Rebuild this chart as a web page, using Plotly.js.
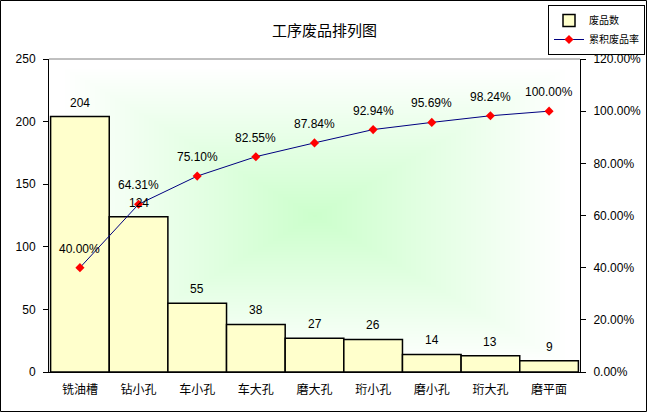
<!DOCTYPE html>
<html>
<head>
<meta charset="utf-8">
<script src="https://cdn.plot.ly/plotly-3.0.1.min.js"></script>
<style>
  html, body { margin: 0; padding: 0; background: #fff; }
  #chart { width: 649px; height: 415px; }
</style>
</head>
<body>
<div id="chart"></div>
<script>
var categories = ['铣油槽', '钻小孔', '车小孔', '车大孔', '磨大孔', '珩小孔', '磨小孔', '珩大孔', '磨平面'];
var rejects = [204, 124, 55, 38, 27, 26, 14, 13, 9];
var cumRate = [0.4000, 0.6431, 0.7510, 0.8255, 0.8784, 0.9294, 0.9569, 0.9824, 1.0000];
var pctLabels = ['40.00%', '64.31%', '75.10%', '82.55%', '87.84%', '92.94%', '95.69%', '98.24%', '100.00%'];

var W = 649, H = 415;
var m = {l: 49, r: 69, t: 59, b: 43, autoexpand: false};
var pw = W - m.l - m.r, ph = H - m.t - m.b;

// excel-ish "from centre" gradient for the plot area
function gradientUrl() {
  var c = document.createElement('canvas');
  c.width = pw; c.height = ph;
  var ctx = c.getContext('2d');
  var img = ctx.createImageData(pw, ph);
  var cx = pw / 2, cy = ph / 2;
  for (var y = 0; y < ph; y++) {
    for (var x = 0; x < pw; x++) {
      var t = Math.max(Math.abs(x - cx) / cx, Math.abs(y - cy) / cy);
      t = Math.min(1, t / 0.95);
      var i = (y * pw + x) * 4;
      img.data[i] = Math.round(204 + 51 * t);
      img.data[i + 1] = 255;
      img.data[i + 2] = Math.round(204 + 51 * t);
      img.data[i + 3] = 255;
    }
  }
  ctx.putImageData(img, 0, 0);
  return c.toDataURL();
}

var numFont = {family: 'Liberation Sans, Arial, sans-serif', size: 12, color: '#000'};
var cjkFont = {family: 'Noto Sans CJK SC, sans-serif', size: 12, color: '#000'};

var bars = {
  type: 'bar',
  name: '废品数',
  x: categories,
  y: rejects,
  marker: {color: '#FFFFCC', line: {color: '#000', width: 1.5}},
  hoverinfo: 'x+y'
};

var line = {
  type: 'scatter',
  mode: 'lines+markers',
  name: '累积废品率',
  x: categories,
  y: cumRate,
  yaxis: 'y2',
  cliponaxis: false,
  line: {color: '#000080', width: 1},
  marker: {symbol: 'diamond', color: '#FF0000', size: 7}
};

// data labels, placed through the axes
var annotations = [];
categories.forEach(function (c, i) {
  annotations.push({
    x: c, y: rejects[i], xref: 'x', yref: 'y',
    text: String(rejects[i]), showarrow: false,
    yanchor: 'middle', yshift: 14, font: numFont
  });
  annotations.push({
    x: c, y: cumRate[i], xref: 'x', yref: 'y2',
    text: pctLabels[i], showarrow: false,
    yanchor: 'middle', yshift: 19, font: numFont
  });
});

var layout = {
  width: W, height: H,
  margin: m,
  paper_bgcolor: '#fff',
  plot_bgcolor: 'rgba(0,0,0,0)',
  showlegend: true,
  bargap: 0,
  annotations: annotations,
  title: {
    text: '工序废品排列图',
    font: {family: 'Noto Sans CJK SC, sans-serif', size: 15, color: '#000'},
    x: 0.5, xanchor: 'center', y: 0.927, yanchor: 'middle'
  },
  xaxis: {
    type: 'category',
    showline: true, linecolor: '#000', linewidth: 1,
    ticks: '', tickfont: cjkFont, ticklabelstandoff: 7,
    showgrid: false, zeroline: false, fixedrange: true
  },
  yaxis: {
    range: [0, 250], dtick: 50,
    showline: true, linecolor: '#000', linewidth: 1,
    ticks: 'outside', ticklen: 5, tickcolor: '#000',
    tickfont: numFont, ticklabelstandoff: 5,
    showgrid: false, zeroline: false, fixedrange: true
  },
  yaxis2: {
    overlaying: 'y', side: 'right',
    range: [0, 1.2], dtick: 0.2, tickformat: '.2%',
    showline: true, linecolor: '#000', linewidth: 1,
    ticks: 'outside', ticklen: 5, tickcolor: '#000',
    tickfont: numFont, ticklabelstandoff: 5,
    showgrid: false, zeroline: false, fixedrange: true
  },
  legend: {
    x: (548 - m.l) / pw, xanchor: 'left',
    y: 1 + (m.t - 5) / ph, yanchor: 'top',
    bgcolor: '#fff', bordercolor: '#000', borderwidth: 1,
    font: {family: 'Noto Sans CJK SC, sans-serif', size: 10, color: '#000'},
    tracegroupgap: 0, itemwidth: 30
  },
  images: [{
    source: gradientUrl(),
    xref: 'paper', yref: 'paper',
    x: 0, y: 1, sizex: 1, sizey: 1,
    xanchor: 'left', yanchor: 'top',
    sizing: 'stretch', layer: 'below'
  }],
  shapes: [
    {type: 'line', xref: 'paper', yref: 'paper', x0: 0, x1: 1, y0: 1, y1: 1,
     line: {color: '#808080', width: 1}},
    {type: 'rect', xref: 'paper', yref: 'paper',
     x0: -(m.l - 0.5) / pw, x1: 1 + (m.r - 2.5) / pw,
     y0: -(m.b - 3.5) / ph, y1: 1 + (m.t - 0.5) / ph,
     line: {color: '#000', width: 1}}
  ]
};

Plotly.newPlot('chart', [bars, line], layout, {displayModeBar: false, staticPlot: true});
</script>
</body>
</html>
